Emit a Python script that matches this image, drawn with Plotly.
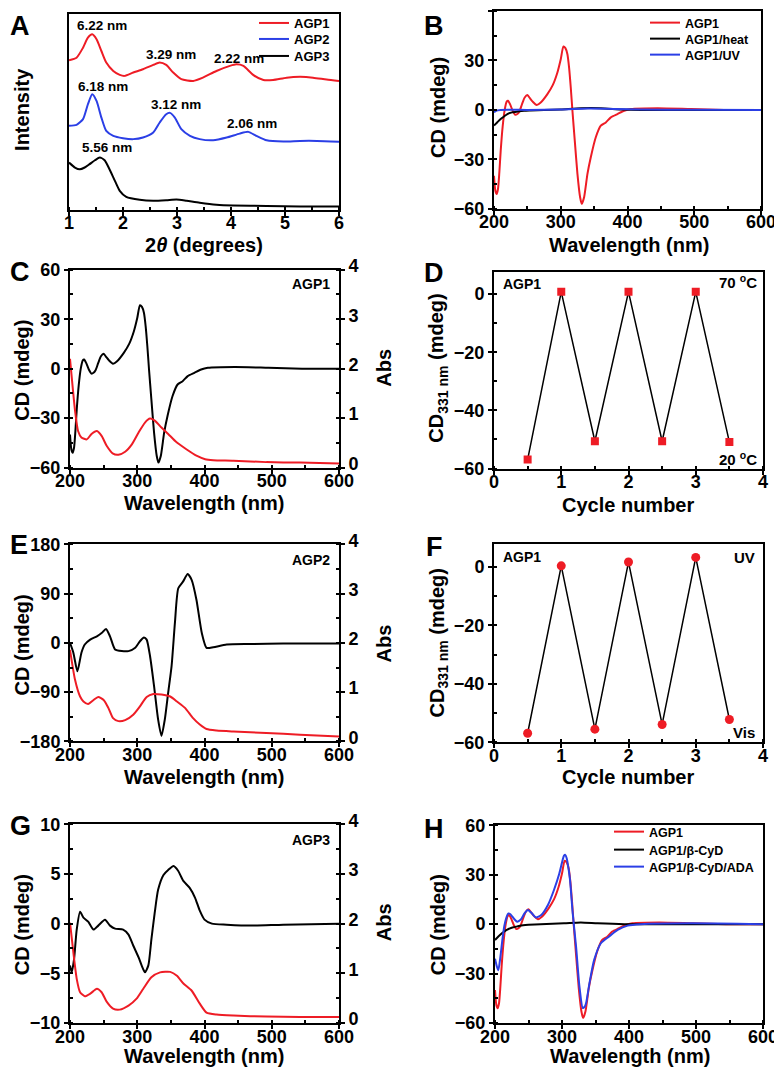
import plotly.graph_objects as go

# page size of the reference and the browser's default body margin
PAGE_W, PAGE_H = 782, 1071
OFF = 8
W, H = PAGE_W - OFF, PAGE_H - OFF
FONT = "Liberation Sans, Arial, sans-serif"
RED = "#ee1c25"
BLUE = "#2b3fe6"
BLACK = "#000000"

# ---------------- Panel A: XRD ----------------
xrd1_2t = [1.00, 1.14, 1.26, 1.35, 1.43, 1.51, 1.60, 1.69, 1.82, 1.94, 2.03, 2.19, 2.37, 2.56, 2.68, 2.80, 2.93, 3.08, 3.30, 3.48, 3.73, 3.98, 4.10, 4.23, 4.41, 4.60, 4.78, 5.03, 5.28, 5.52, 5.77, 6.00]
xrd1_int = [76.4, 77.7, 82.8, 87.9, 89.6, 87.1, 81.1, 75.2, 70.9, 68.9, 68.4, 70.1, 71.8, 74.0, 75.2, 74.0, 70.1, 66.7, 65.8, 67.5, 70.9, 73.5, 74.3, 73.5, 68.9, 66.3, 66.3, 67.5, 67.9, 67.5, 66.5, 65.8]
xrd2_2t = [1.00, 1.14, 1.26, 1.35, 1.43, 1.51, 1.60, 1.69, 1.82, 2.00, 2.19, 2.37, 2.56, 2.68, 2.80, 2.87, 2.96, 3.08, 3.24, 3.42, 3.67, 3.92, 4.16, 4.32, 4.47, 4.66, 4.97, 5.28, 5.59, 6.00]
xrd2_int = [42.9, 43.4, 46.3, 53.9, 59.0, 55.6, 47.1, 40.3, 37.8, 36.6, 36.1, 36.9, 39.5, 44.6, 48.8, 49.5, 47.1, 41.2, 37.8, 36.1, 35.5, 36.9, 38.9, 39.8, 37.8, 35.5, 34.9, 35.2, 35.2, 34.7]
xrd3_2t = [1.00, 1.11, 1.20, 1.29, 1.38, 1.48, 1.57, 1.66, 1.75, 1.85, 1.94, 2.06, 2.31, 2.56, 2.80, 2.99, 3.18, 3.42, 3.73, 4.04, 4.66, 5.28, 6.00]
xrd3_int = [24.1, 21.6, 20.7, 21.6, 23.3, 25.3, 26.7, 25.3, 20.7, 14.8, 9.7, 6.6, 5.1, 4.6, 4.9, 5.3, 4.6, 3.6, 2.6, 2.2, 2.0, 1.7, 1.7]
peak_labels = ["6.22 nm", "3.29 nm", "2.22 nm", "6.18 nm", "3.12 nm", "2.06 nm", "5.56 nm"]
peak_x = [1.61, 2.88, 4.15, 1.63, 2.99, 4.39, 1.71]
peak_y = [93.9, 79.4, 77.4, 62.8, 53.6, 44.2, 31.8]

# ---------------- CD spectra of AGP1 (B, C, H) ----------------
agp1_wl = [200, 202, 204, 206, 208, 210, 213, 216, 219, 221, 224, 228, 232, 235, 238, 242, 246, 250, 254, 258, 264, 270, 280, 288, 295, 300, 304, 307, 310, 312.5, 315, 317.5, 321, 325, 329, 331.5, 335, 340, 345, 352.5, 360, 367.5, 375, 385, 395, 405, 445, 495, 545, 600]
agp1_cd = [-40, -49, -51, -48, -38, -25, -10, 0, 5, 5.5, 3.5, -0.5, -3, -2.5, -1, 3.5, 7.5, 9, 7, 5, 3, 4.5, 9.6, 15, 22.7, 30.7, 38.5, 37.5, 33.8, 25.7, 13.6, -0.5, -18.6, -38.8, -53, -57, -53, -38.8, -28.7, -16.6, -9.6, -7.6, -4.5, -2.5, -0.5, 0.5, 1, 0.5, 0, 0]
heat_wl = [200, 205, 210, 215, 220, 227, 235, 245, 255, 275, 300, 330, 360, 390, 420, 600]
heat_cd = [-9.5, -7.5, -5.5, -4, -2.5, -1.5, -1, -0.5, -0.3, 0, 0.3, 1, 1, 0.3, 0, 0]
uv_wl = [200, 203, 210, 250, 300, 340, 380, 420, 500, 600]
uv_cd = [-1.5, -0.5, 0, 0, 0.2, 0.8, 0.6, 0.2, 0.1, 0]

# ---------------- Panel C: AGP1 absorbance ----------------
c_abs_wl = [200, 204, 207.5, 212, 217, 225, 232, 240, 247, 254.5, 264, 272, 282, 292, 302, 311.5, 319, 326, 336, 346, 358.5, 373, 388, 401, 413, 443, 492, 542, 600]
c_abs = [2.2, 1.62, 1.15, 0.74, 0.61, 0.57, 0.68, 0.74, 0.64, 0.44, 0.28, 0.26, 0.32, 0.47, 0.71, 0.91, 0.99, 0.95, 0.81, 0.68, 0.51, 0.37, 0.24, 0.17, 0.15, 0.14, 0.11, 0.10, 0.08]

# ---------------- Panel E: AGP2 ----------------
e_cd_wl = [200, 205, 211, 217, 222, 230, 240, 247, 253.5, 259.5, 267, 277, 287, 297, 304, 310, 314, 319, 325, 331, 336, 341, 346, 351, 356, 361, 368, 375, 381, 388, 396, 403, 413, 433, 468, 517, 600]
e_cd = [0, -18, -52, -18, -3, 6, 12, 18, 25.5, 12, -12, -15, -15, -9, 3, 10, 6, -24, -79, -140, -170, -140, -91, -43, 36.5, 100, 112, 126, 115, 79, 18, -9, -8, -3, -2, -1, -1]
e_abs_wl = [200, 207.5, 215, 220, 227, 235, 242, 250, 257, 264, 272, 282, 294, 304, 314, 324, 336, 349, 359, 371, 383, 393, 403, 418, 443, 492, 542, 600]
e_abs = [1.86, 1.25, 0.91, 0.81, 0.76, 0.84, 0.90, 0.84, 0.68, 0.47, 0.41, 0.43, 0.54, 0.71, 0.90, 0.96, 0.95, 0.91, 0.81, 0.68, 0.47, 0.34, 0.25, 0.22, 0.20, 0.17, 0.135, 0.10]

# ---------------- Panel G: AGP3 ----------------
g_cd_wl = [200, 202.5, 206, 210, 215, 220, 227, 235, 242, 252, 259.5, 267, 279, 287, 294, 302, 306.5, 311.5, 316.5, 321, 326, 331, 339, 346, 354, 361, 368.5, 378, 386, 393, 400, 411, 433, 468, 517, 600]
g_cd = [-4.2, -4.9, -3.6, -0.6, 1.2, 0.6, 0.2, -0.6, -0.2, 0.4, -0.2, -0.5, -0.6, -1.1, -2.2, -3.4, -4.2, -4.9, -4.2, -1.6, 1.1, 3.4, 4.9, 5.4, 5.8, 5.3, 4.3, 3.6, 2.6, 1.3, 0.4, 0, -0.1, -0.2, -0.1, 0]
g_abs_wl = [200, 205, 210, 215, 222, 230, 240, 247, 254.5, 264, 274, 287, 299, 309, 321, 334, 349, 359, 369, 381, 393, 403, 418, 443, 492, 542, 600]
g_abs = [2.02, 1.42, 0.89, 0.62, 0.54, 0.59, 0.69, 0.62, 0.43, 0.29, 0.27, 0.35, 0.49, 0.69, 0.92, 1.02, 1.03, 0.95, 0.79, 0.65, 0.39, 0.21, 0.17, 0.15, 0.13, 0.12, 0.12]

# ---------------- Panels D / F: switching cycles ----------------
cycles = [0.5, 1, 1.5, 2, 2.5, 3, 3.5]
d_cd331 = [-56.9, 0.8, -50.6, 0.8, -50.6, 0.8, -50.9]
f_cd331 = [-56.9, 0.3, -55.5, 1.6, -53.9, 3.2, -52.2]

# ---------------- Panel H: host-guest ----------------
cyd_wl = [200, 205, 209, 214, 219, 226, 234, 242, 250, 268, 303, 328, 353, 393, 450, 600]
cyd_cd = [-9.6, -7.5, -6, -4.5, -3.2, -2, -1.3, -0.7, -0.4, 0, 0.5, 1, 0.5, 0, 0, 0]
ada_wl = [200, 203, 205, 208, 211, 214, 217, 220, 223, 226, 230, 233, 236, 239, 244, 249, 254, 261, 269, 279, 288, 296, 301, 303, 305, 307, 310, 312, 316, 321, 326, 331, 334, 336, 341, 348, 358, 370, 383, 398, 418, 492, 600]
ada_cd = [-21, -26, -28, -20, -9.6, -1, 4, 6.5, 6, 4.5, 2.5, 1.5, 2, 3, 6.5, 8.6, 7, 4, 5.5, 11.6, 20.7, 30.7, 39, 41.5, 42, 40, 33, 26.7, 6.5, -13.6, -37.8, -50.9, -50, -47.9, -35.8, -21.7, -11.6, -7.6, -3.5, -0.9, 0, 0.5, 0]


# page-pixel -> paper helpers (the page body adds an OFF px margin)
def px(x):
    return (x - OFF) / W


def py(y):
    return 1 - (y - OFF) / H


def dx(l, r):
    return [px(l), px(r)]


def dy(t, b):
    return [py(b), py(t)]


fig = go.Figure()


def line(x, y, color, xa, ya, name=None, legend=None, width=2):
    fig.add_trace(go.Scatter(
        x=x, y=y, mode="lines", xaxis=xa, yaxis=ya,
        line=dict(color=color, width=width, shape="spline", smoothing=0.6),
        name=name, showlegend=legend is not None, legend=legend or "legend",
        hoverinfo="skip"))


# A
line(xrd1_2t, xrd1_int, RED, "x", "y", "AGP1", "legend")
line(xrd2_2t, xrd2_int, BLUE, "x", "y", "AGP2", "legend2")
line(xrd3_2t, xrd3_int, BLACK, "x", "y", "AGP3", "legend3")
# B
line(agp1_wl, agp1_cd, RED, "x2", "y2", "AGP1", "legend4")
line(heat_wl, heat_cd, BLACK, "x2", "y2", "AGP1/heat", "legend5")
line(uv_wl, uv_cd, BLUE, "x2", "y2", "AGP1/UV", "legend6")
# C
line(agp1_wl, agp1_cd, BLACK, "x3", "y3")
line(c_abs_wl, c_abs, RED, "x3", "y4")
# D
fig.add_trace(go.Scatter(x=cycles, y=d_cd331, mode="lines+markers", xaxis="x4", yaxis="y5",
                         line=dict(color=BLACK, width=1.5),
                         marker=dict(symbol="square", size=8, color=RED),
                         showlegend=False, hoverinfo="skip"))
# E
line(e_cd_wl, e_cd, BLACK, "x5", "y6")
line(e_abs_wl, e_abs, RED, "x5", "y7")
# F
fig.add_trace(go.Scatter(x=cycles, y=f_cd331, mode="lines+markers", xaxis="x6", yaxis="y8",
                         line=dict(color=BLACK, width=1.5),
                         marker=dict(symbol="circle", size=9, color=RED),
                         showlegend=False, hoverinfo="skip"))
# G
line(g_cd_wl, g_cd, BLACK, "x7", "y9")
line(g_abs_wl, g_abs, RED, "x7", "y10")
# H
line(agp1_wl, agp1_cd, RED, "x8", "y11", "AGP1", "legend7")
line(cyd_wl, cyd_cd, BLACK, "x8", "y11", "AGP1/β-CyD", "legend8")
line(ada_wl, ada_cd, BLUE, "x8", "y11", "AGP1/β-CyD/ADA", "legend9")

tickfont = dict(family=FONT, size=18, color="black", weight="bold")


def ax(domain, rng, dtick, minor_dtick, anchor, **kw):
    d = dict(domain=domain, range=rng, dtick=dtick, tick0=0, anchor=anchor,
             showline=True, linecolor="black", linewidth=2, mirror=True,
             ticks="outside", ticklen=4, tickwidth=2, tickcolor="black",
             showgrid=False, zeroline=False, tickfont=tickfont, automargin=False,
             minor=dict(ticks="inside", ticklen=3, tickwidth=1.5, tickcolor="black",
                        dtick=minor_dtick, tick0=0, showgrid=False))
    d.update(kw)
    return d


def xax(domain, rng, dtick, minor_dtick, anchor, **kw):
    return ax(domain, rng, dtick, minor_dtick, anchor, ticklabelstandoff=-8, **kw)


def rax(domain, overlay, anchor):
    return ax(domain, [0, 4], 1, 0.5, anchor, overlaying=overlay, side="right",
              mirror=False, ticklabelshift=-4)


L_X = dx(70, 339)
R_X = dx(494, 763)

layout = dict(
    width=W, height=H, margin=dict(l=0, r=0, t=0, b=0),
    paper_bgcolor="white", plot_bgcolor="white",
    font=dict(family=FONT, color="black", weight="bold"),
    template="none",
    # A
    xaxis=xax(dx(69, 339), [1, 6], 1, 0.5, "y"),
    yaxis=ax(dy(13, 209), [0, 100], 50, 25, "x", showticklabels=False, ticks="",
             minor=dict(ticks="")),
    # B
    xaxis2=xax(dx(494, 761), [200, 600], 100, 50, "y2"),
    yaxis2=ax(dy(10, 208), [-60, 60], 30, 15, "x2"),
    # C
    xaxis3=xax(L_X, [200, 600], 100, 50, "y3"),
    yaxis3=ax(dy(269, 467), [-60, 60], 30, 15, "x3"),
    yaxis4=rax(dy(269, 467), "y3", "x3"),
    # D
    xaxis4=xax(R_X, [0, 4], 1, 0.5, "y5"),
    yaxis5=ax(dy(271, 468), [-60, 7.7], 20, 10, "x4"),
    # E
    xaxis5=xax(L_X, [200, 600], 100, 50, "y6"),
    yaxis6=ax(dy(544, 741), [-180, 180], 90, 45, "x5"),
    yaxis7=rax(dy(544, 741), "y6", "x5"),
    # F
    xaxis6=xax(R_X, [0, 4], 1, 0.5, "y8"),
    yaxis8=ax(dy(544, 742), [-60, 7.6], 20, 10, "x6"),
    # G
    xaxis7=xax(L_X, [200, 600], 100, 50, "y9"),
    yaxis9=ax(dy(824, 1023), [-10, 10], 5, 2.5, "x7"),
    yaxis10=rax(dy(824, 1023), "y9", "x7"),
    # H
    xaxis8=xax(dx(495, 763), [200, 600], 100, 50, "y11"),
    yaxis11=ax(dy(825, 1023), [-60, 60], 30, 15, "x8"),
)


def leg(text_left_px, row_py, size):
    # plotly puts the entry text about 45 px right of the legend's left edge
    return dict(bgcolor="rgba(0,0,0,0)", borderwidth=0, xanchor="left", yanchor="middle",
                x=px(text_left_px - 44), y=py(row_py), itemwidth=30, tracegroupgap=0,
                font=dict(family=FONT, size=size, color="black", weight="bold"))


# one legend per row so that the row spacing matches the reference
layout["legend"] = leg(298, 22, 13)
layout["legend2"] = leg(298, 39, 13)
layout["legend3"] = leg(298, 56, 13)
layout["legend4"] = leg(689, 23, 12.5)
layout["legend5"] = leg(689, 39, 12.5)
layout["legend6"] = leg(689, 55, 12.5)
layout["legend7"] = leg(653, 832, 12.5)
layout["legend8"] = leg(653, 850, 12.5)
layout["legend9"] = leg(653, 867, 12.5)

fig.update_layout(**layout)

ann = []


def text(t, x, y, size=14, xanchor="center", yanchor="middle", angle=0, xref="paper", yref="paper"):
    ann.append(dict(text=t, x=x, y=y, xref=xref, yref=yref, showarrow=False,
                    xanchor=xanchor, yanchor=yanchor, textangle=angle,
                    font=dict(family=FONT, size=size, color="black", weight="bold")))


# XRD peak labels (data coordinates)
for lab, xv, yv in zip(peak_labels, peak_x, peak_y):
    text(lab, xv, yv, size=13.5, xref="x", yref="y")

# panel letters (kept inside the figure)
LS = 27
text("A", px(OFF), py(OFF), LS, xanchor="left", yanchor="top")
text("B", px(434), py(OFF), LS, yanchor="top")
text("C", px(OFF), py(271), LS, xanchor="left")
text("D", px(434), py(272), LS)
text("E", px(OFF), py(545), LS, xanchor="left")
text("F", px(434), py(547), LS)
text("G", px(OFF), py(826), LS, xanchor="left")
text("H", px(434), py(829), LS)

# axis titles
TS = 20
YL = 22  # left-column y titles, kept inside the figure
text("2<i>θ</i> (degrees)", px(204), py(244), TS)
text("Intensity", px(YL), py(109), TS, angle=-90)
text("Wavelength (nm)", px(629), py(244), TS)
text("CD (mdeg)", px(438), py(107), TS, angle=-90)
text("Wavelength (nm)", px(204), py(502), TS)
text("CD (mdeg)", px(YL), py(370), TS, angle=-90)
text("Abs", px(384), py(367), TS, angle=-90)
text("Cycle number", px(628), py(504), TS)
text("CD<sub>331 nm</sub> (mdeg)", px(438), py(368), TS, angle=-90)
text("Wavelength (nm)", px(204), py(777), TS)
text("CD (mdeg)", px(YL), py(645), TS, angle=-90)
text("Abs", px(384), py(643), TS, angle=-90)
text("Cycle number", px(628), py(777), TS)
text("CD<sub>331 nm</sub> (mdeg)", px(438), py(643), TS, angle=-90)
text("Wavelength (nm)", px(204), py(1056), TS)
text("CD (mdeg)", px(YL), py(925), TS, angle=-90)
text("Abs", px(384), py(922), TS, angle=-90)
text("Wavelength (nm)", px(630), py(1056), TS)
text("CD (mdeg)", px(438), py(925), TS, angle=-90)

# in-panel labels
text("AGP1", px(332), py(283), 14, xanchor="right")
text("AGP2", px(332), py(560), 14, xanchor="right")
text("AGP3", px(332), py(840), 14, xanchor="right")
text("AGP1", px(501), py(283), 14, xanchor="left")
text("70 <sup>o</sup>C", px(759), py(281), 15, xanchor="right")
text("20 <sup>o</sup>C", px(759), py(458), 15, xanchor="right")
text("AGP1", px(501), py(557), 14, xanchor="left")
text("UV", px(757), py(557), 15, xanchor="right")
text("Vis", px(757), py(732), 15, xanchor="right")

fig.update_layout(annotations=ann)
fig.write_html("out.html")
